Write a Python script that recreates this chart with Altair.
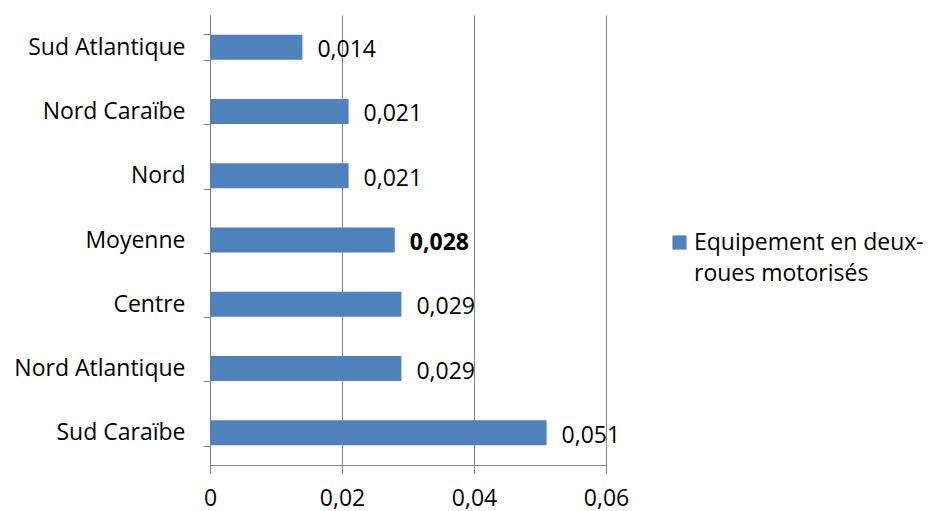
import altair as alt
import pandas as pd

# Two-wheeler equipment rate per zone
regions = ["Sud Atlantique", "Nord Caraïbe", "Nord", "Moyenne",
           "Centre", "Nord Atlantique", "Sud Caraïbe"]
rates = [0.014, 0.021, 0.021, 0.028, 0.029, 0.029, 0.051]
series_name = "Equipement en deux-roues motorisés"
x_ticks = [0, 0.02, 0.04, 0.06]
highlight = "Moyenne"

df = pd.DataFrame({"region": regions, "rate": rates, "serie": series_name})

FONT = "Open Sans"
FS = 23
GRID = "#868686"
BLUE = "#4F81BD"

y_enc = alt.Y(
    "region:N", sort=regions, title=None,
    scale=alt.Scale(paddingInner=0.6, paddingOuter=0.3),
    axis=alt.Axis(tickBand="extent", tickSize=7, tickColor=GRID, domainColor=GRID,
                  labelFont=FONT, labelFontSize=FS, labelColor="#000000",
                  labelPadding=18, grid=False),
)
x_enc = alt.X(
    "rate:Q", title=None,
    scale=alt.Scale(domain=[0, 0.06], nice=False),
    axis=alt.Axis(values=x_ticks, grid=True, gridColor=GRID, gridWidth=1,
                  tickSize=8, tickColor=GRID, domainColor=GRID,
                  labelFont=FONT, labelFontSize=FS, labelColor="#000000",
                  labelPadding=14, labelFlush=False,
                  labelExpr="replace(format(datum.value, '.2~f'), '.', ',')"),
)

bars = alt.Chart(df).mark_bar(size=25).encode(
    x=x_enc,
    y=y_enc,
    color=alt.Color(
        "serie:N", title=None,
        scale=alt.Scale(domain=[series_name], range=[BLUE]),
        legend=alt.Legend(orient="none", legendX=458, legendY=216,
                          symbolType="square", symbolSize=200, symbolStrokeWidth=0,
                          labelFont=FONT, labelFontSize=FS, labelColor="#000000",
                          labelLimit=300, labelOffset=3,
                          labelExpr="[slice(datum.label, 0, 19), slice(datum.label, 19)]"),
    ),
)


def value_labels(weight, keep):
    return alt.Chart(df).transform_filter(keep).transform_calculate(
        txt="replace(format(datum.rate, '.3f'), '.', ',')"
    ).mark_text(align="left", baseline="middle", dx=15, dy=3, font=FONT, fontSize=FS,
                fontWeight=weight, color="#000000").encode(
        x="rate:Q",
        y=alt.Y("region:N", sort=regions),
        text="txt:N",
    )


labels_plain = value_labels("normal", alt.datum.region != highlight)
labels_bold = value_labels("bold", alt.datum.region == highlight)

chart = alt.layer(bars, labels_plain, labels_bold).properties(
    width=396, height=450,
    autosize=alt.AutoSizeParams(type="none"),
    padding={"left": 210, "top": 15, "right": 322, "bottom": 46},
    background="white",
).configure(
    style={"guide-label": {"lineHeight": 31}},
    view=alt.ViewConfig(strokeWidth=0),
)

chart.save("out.html", embed_options={"renderer": "svg", "actions": False})
